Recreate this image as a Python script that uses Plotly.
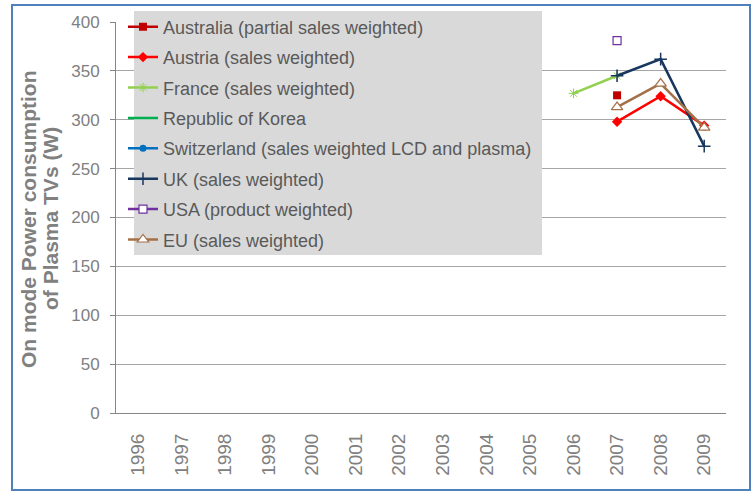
import plotly.graph_objects as go

# Categories (years) and series values in watts; None = no data for that year
years = ["1996", "1997", "1998", "1999", "2000", "2001", "2002",
         "2003", "2004", "2005", "2006", "2007", "2008", "2009"]

australia = [None] * 11 + [325, None, None]
austria = [None] * 11 + [298, 324, 294]
france = [None] * 10 + [327, 345, None, None]
korea = [None] * 14
switzerland = [None] * 14
uk = [None] * 11 + [345, 362, 273]
usa = [None] * 11 + [381, None, None]
eu = [None] * 11 + [313, 337, 292]

y_title = ["On mode Power consumption", "of Plasma TVs (W)"]

W, H = 754, 492
ML, MR, MT, MB = 116, 28, 22, 79
PW, PH = W - ML - MR, H - MT - MB


def px_x(x):
    return (x - ML) / PW


def px_y(y):
    return (H - MB - y) / PH


series = [
    ("Australia (partial sales weighted)", australia, "#c00000",
     dict(symbol="square", size=8, color="#c00000")),
    ("Austria (sales weighted)", austria, "#ff0000",
     dict(symbol="diamond", size=8, color="#ff0000")),
    ("France (sales weighted)", france, "#92d050",
     dict(symbol="asterisk-open", size=8, color="#92d050",
          line=dict(color="#92d050", width=1))),
    ("Republic of Korea", korea, "#00b050",
     dict(symbol="line-ew-open", size=8, color="#00b050",
          line=dict(color="#00b050", width=2))),
    ("Switzerland (sales weighted LCD and plasma)", switzerland, "#0070c0",
     dict(symbol="circle", size=7, color="#0070c0")),
    ("UK (sales weighted)", uk, "#17375e",
     dict(symbol="cross-thin-open", size=9, color="#17375e",
          line=dict(color="#17375e", width=1.5))),
    ("USA (product weighted)", usa, "#7030a0",
     dict(symbol="square", size=8, color="white",
          line=dict(color="#7030a0", width=1.2))),
    ("EU (sales weighted)", eu, "#a47048",
     dict(symbol="triangle-up", size=10, color="white",
          line=dict(color="#a47048", width=1.2))),
]

fig = go.Figure()
for name, vals, color, marker in series:
    fig.add_trace(go.Scatter(
        x=years, y=vals, name=name, mode="lines+markers",
        line=dict(color=color, width=2.5), marker=marker,
        connectgaps=False, legendgroup=name,
    ))

# Legend panel background and outer chart frame
fig.add_shape(type="rect", xref="paper", yref="paper", layer="above",
              x0=px_x(134), x1=px_x(542), y0=px_y(255), y1=px_y(11),
              fillcolor="#d9d9d9", line=dict(width=0))
fig.add_shape(type="rect", xref="paper", yref="paper", layer="above",
              x0=px_x(12), x1=px_x(750), y0=px_y(490), y1=px_y(5),
              fillcolor="rgba(0,0,0,0)", line=dict(color="#4f81bd", width=2))

grey = "#808080"

# Two-line rotated y-axis title, set with tight line spacing
for text, xpx in zip(y_title, [28, 50]):
    fig.add_annotation(
        text=f"<b>{text}</b>", xref="paper", yref="paper",
        x=px_x(xpx), y=px_y(219), xanchor="center", yanchor="middle",
        textangle=-90, showarrow=False,
        font=dict(size=21, color=grey),
    )

fig.update_layout(
    width=W, height=H,
    margin=dict(l=ML, r=MR, t=MT, b=MB, autoexpand=False),
    paper_bgcolor="white", plot_bgcolor="white",
    font=dict(family="Liberation Sans, Arial, sans-serif", color=grey, size=17),
    legend=dict(
        x=px_x(123), y=px_y(8.5), xanchor="left", yanchor="top",
        bgcolor="rgba(0,0,0,0)", borderwidth=0,
        font=dict(size=18, color="#595959"),
        tracegroupgap=4, maxheight=480,
    ),
    xaxis=dict(
        type="category", categoryorder="array", categoryarray=years,
        range=[-0.5, 13.5], tickangle=-90,
        showline=True, linecolor="#868686", linewidth=1,
        showgrid=False, ticks="", tickfont=dict(size=19, color=grey),
        ticklabelstandoff=12,
    ),
    yaxis=dict(
        range=[0, 400], dtick=50, tick0=0,
        showline=True, linecolor="#868686", linewidth=1,
        ticks="outside", ticklen=5, tickcolor="#868686",
        showgrid=True, gridcolor="#a6a6a6", gridwidth=1,
        zeroline=False, tickfont=dict(size=17, color=grey),
        ticklabelstandoff=7,
    ),
)

fig.write_html("out.html")
